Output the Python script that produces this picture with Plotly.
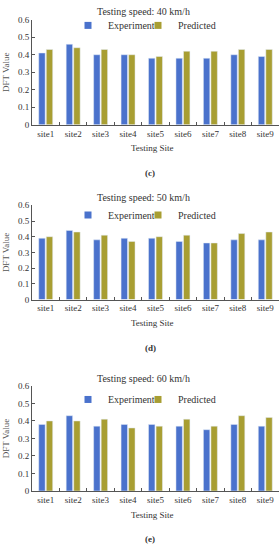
import plotly.graph_objects as go

sites = ["site1", "site2", "site3", "site4", "site5", "site6", "site7", "site8", "site9"]

exp_40 = [0.41, 0.46, 0.40, 0.40, 0.38, 0.38, 0.38, 0.40, 0.39]
pred_40 = [0.43, 0.44, 0.43, 0.40, 0.39, 0.42, 0.42, 0.43, 0.43]

exp_50 = [0.39, 0.44, 0.38, 0.39, 0.39, 0.37, 0.36, 0.38, 0.38]
pred_50 = [0.40, 0.43, 0.41, 0.37, 0.40, 0.41, 0.36, 0.42, 0.43]

exp_60 = [0.38, 0.43, 0.37, 0.38, 0.38, 0.37, 0.35, 0.38, 0.37]
pred_60 = [0.40, 0.40, 0.41, 0.36, 0.37, 0.41, 0.37, 0.43, 0.42]

titles = ["Testing speed: 40 km/h", "Testing speed: 50 km/h", "Testing speed: 60 km/h"]
panel_labels = ["(c)", "(d)", "(e)"]
y_ticks = [0, 0.1, 0.2, 0.3, 0.4, 0.5, 0.6]
y_tick_text = ["0", "0.1", "0.2", "0.3", "0.4", "0.5", "0.6"]

EXP_COLOR = "#4A72CC"
PRED_COLOR = "#A89E32"
FONT = "Liberation Serif"
TXT = "#333333"

H = 550.0
W = 279.0
panels_px = [(15, 122), (204, 300), (388, 495)]
legend_px = [6, 199, 387]

fig = go.Figure()
data = [(exp_40, pred_40), (exp_50, pred_50), (exp_60, pred_60)]

for i, (e, p) in enumerate(data):
    sfx = "" if i == 0 else str(i + 1)
    fig.add_trace(go.Bar(x=sites, y=e, name="Experiment", marker_color=EXP_COLOR,
                         xaxis="x" + sfx, yaxis="y" + sfx, showlegend=False))
    fig.add_trace(go.Bar(x=sites, y=p, name="Predicted", marker_color=PRED_COLOR,
                         xaxis="x" + sfx, yaxis="y" + sfx, showlegend=False))
    for j, (name, col) in enumerate((("Experiment", EXP_COLOR), ("Predicted", PRED_COLOR))):
        lg = "legend" + ("" if (i == 0 and j == 0) else str(i * 2 + j + 1))
        fig.add_trace(go.Scatter(x=[None], y=[None], mode="markers", name=name,
                                 marker=dict(symbol="square", size=7, color=col),
                                 xaxis="x" + sfx, yaxis="y" + sfx,
                                 legend=lg, showlegend=True))

annotations = []
for i, (top, bot) in enumerate(panels_px):
    sfx = "" if i == 0 else str(i + 1)
    dom = [1 - bot / H, 1 - top / H]
    fig.layout["xaxis" + sfx] = dict(
        domain=[32 / W, 1.0], anchor="y" + sfx, type="category",
        categoryorder="array", categoryarray=sites,
        showline=True, linecolor="#555555", linewidth=1,
        ticks="inside", ticklen=3, tickcolor="#555555", tickson="boundaries",
        tickangle=0,
        tickfont=dict(family=FONT, size=9, color=TXT), showgrid=False,
        zeroline=False, fixedrange=True,
    )
    fig.layout["yaxis" + sfx] = dict(
        domain=dom, anchor="x" + sfx, range=[0, 0.6],
        tickvals=y_ticks, ticktext=y_tick_text,
        showline=True, linecolor="#555555", linewidth=1,
        ticks="inside", ticklen=3, tickcolor="#555555",
        tickfont=dict(family=FONT, size=9, color=TXT), showgrid=False,
        zeroline=False,
        title=dict(text="DFT Value", font=dict(family=FONT, size=9, color="#555555"), standoff=6),
    )
    annotations.append(dict(text=titles[i], x=143 / W, y=1 - (top - 8) / H, xref="paper", yref="paper",
                            showarrow=False, xanchor="center", yanchor="middle",
                            font=dict(family=FONT, size=10, color=TXT)))
    annotations.append(dict(text="Testing Site", x=152 / W, y=1 - (bot + 24) / H, xref="paper", yref="paper",
                            showarrow=False, xanchor="center", yanchor="middle",
                            font=dict(family=FONT, size=9, color=TXT)))
    annotations.append(dict(text="<b>" + panel_labels[i] + "</b>", x=150 / W, y=1 - (bot + 49) / H,
                            xref="paper", yref="paper",
                            showarrow=False, xanchor="center", yanchor="middle",
                            font=dict(family=FONT, size=9, color=TXT)))
    for j, lx in enumerate((68, 138)):
        lg = "legend" + ("" if (i == 0 and j == 0) else str(i * 2 + j + 1))
        fig.layout[lg] = dict(
            orientation="h", x=lx / W, y=1 - legend_px[i] / H, xanchor="left", yanchor="top",
            bgcolor="rgba(0,0,0,0)", font=dict(family=FONT, size=10, color=TXT),
            itemwidth=30, tracegroupgap=0,
        )

fig.update_layout(
    width=279, height=550, margin=dict(l=0, r=0, t=0, b=0),
    paper_bgcolor="white", plot_bgcolor="white",
    barmode="group", bargap=0.45, bargroupgap=0.15,
    annotations=annotations, showlegend=True,
)

fig.write_html("out.html", config={"displayModeBar": False},
               post_script="document.body.style.margin='0';document.body.style.overflow='hidden';")
